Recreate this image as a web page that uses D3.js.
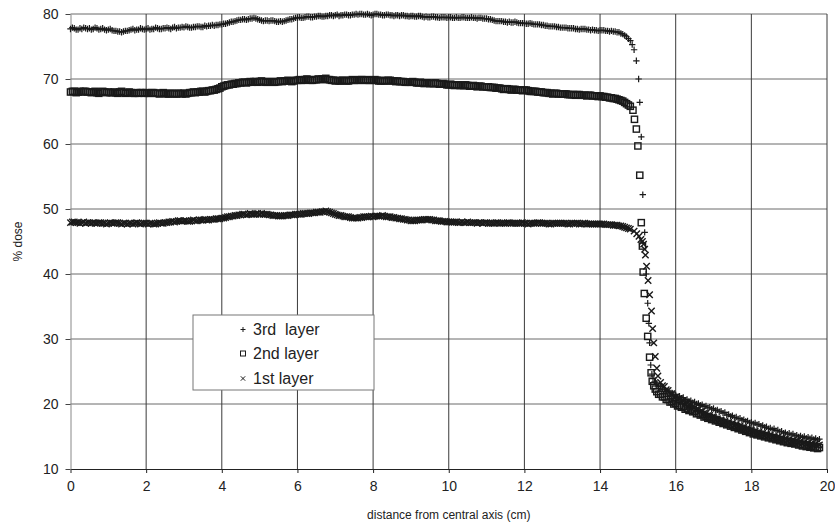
<!DOCTYPE html>
<html>
<head>
<meta charset="utf-8">
<script src="https://cdn.jsdelivr.net/npm/d3@7"></script>
<style>
  body { margin: 0; background: #fff; }
  text { font-family: Arial, "Liberation Sans", Helvetica, sans-serif; fill: #222; }
</style>
</head>
<body>
<div id="chart"></div>
<script>
// sampling step of the measured profiles (cm)
var step = 0.05;

// ---- 3rd layer ---- (plateau: 0 .. 14.8 cm)
var layer3Plateau = [
  77.7, 77.9, 77.8, 77.6, 77.6, 77.8, 77.7, 77.9, 77.8, 77.7, 77.8, 77.6, 77.7, 77.9, 77.8, 77.6, 77.7, 77.8, 77.6, 77.5,
  77.6, 77.7, 77.5, 77.4, 77.4, 77.3, 77.3, 77.2, 77.3, 77.4, 77.4, 77.5, 77.6, 77.7, 77.5, 77.6, 77.6, 77.8, 77.7, 77.6,
  77.7, 77.8, 77.6, 77.7, 77.7, 77.9, 77.8, 77.7, 77.7, 77.8, 77.8, 77.9, 77.8, 77.7, 77.9, 78.0, 77.8, 77.9, 77.9, 78.0,
  77.95, 78.1, 78.0, 77.9, 77.9, 78.0, 78.0, 78.1, 78.1, 78.0, 78.0, 78.2, 78.1, 78.2, 78.2, 78.3, 78.2, 78.3, 78.3, 78.4,
  78.4, 78.5, 78.5, 78.6, 78.7, 78.8, 78.8, 78.9, 79.0, 79.1, 79.1, 79.2, 79.2, 79.1, 79.2, 79.3, 79.3, 79.4, 79.3, 79.2,
  79.1, 79.0, 78.9, 79.0, 79.0, 78.9, 79.0, 79.0, 78.9, 78.8, 78.8, 78.9, 78.8, 78.9, 79.0, 79.1, 79.2, 79.2, 79.3, 79.4,
  79.4, 79.5, 79.4, 79.4, 79.5, 79.6, 79.6, 79.5, 79.5, 79.6, 79.6, 79.7, 79.7, 79.6, 79.6, 79.7, 79.7, 79.8, 79.8, 79.7,
  79.8, 79.9, 79.7, 79.8, 79.8, 79.9, 79.9, 79.8, 79.8, 79.9, 79.9, 80.0, 79.9, 80.0, 80.0, 79.9, 79.9, 80.0, 79.9, 79.8,
  79.9, 80.0, 80.0, 79.9, 79.9, 79.8, 79.8, 79.9, 79.9, 79.8, 79.8, 79.7, 79.8, 79.8, 79.7, 79.8, 79.8, 79.7, 79.7, 79.6,
  79.7, 79.7, 79.6, 79.6, 79.7, 79.7, 79.6, 79.5, 79.6, 79.5, 79.5, 79.6, 79.6, 79.5, 79.5, 79.4, 79.5, 79.5, 79.5, 79.4,
  79.5, 79.5, 79.4, 79.4, 79.5, 79.4, 79.4, 79.5, 79.5, 79.4, 79.4, 79.4, 79.5, 79.4, 79.4, 79.3, 79.4, 79.4, 79.3, 79.3,
  79.3, 79.2, 79.2, 79.1, 79.0, 78.9, 78.9, 78.9, 78.9, 78.8, 78.8, 78.7, 78.8, 78.7, 78.7, 78.8, 78.7, 78.6, 78.6, 78.6,
  78.6, 78.5, 78.5, 78.6, 78.5, 78.4, 78.4, 78.4, 78.4, 78.3, 78.3, 78.2, 78.2, 78.1, 78.1, 78.1, 78.1, 78.0, 78.0, 77.9,
  77.9, 77.9, 77.9, 77.8, 77.8, 77.8, 77.8, 77.7, 77.7, 77.6, 77.7, 77.7, 77.7, 77.6, 77.6, 77.5, 77.6, 77.5, 77.5, 77.4,
  77.5, 77.5, 77.5, 77.4, 77.4, 77.3, 77.4, 77.3, 77.3, 77.2, 77.2, 77.0, 76.9, 76.7, 76.5, 76.2, 75.9
];
var layer3FallX = [14.85, 14.9, 14.96, 15.02, 15.05, 15.09, 15.13, 15.18, 15.22, 15.26, 15.29, 15.31, 15.34, 15.37, 15.40, 15.44, 15.48];
var layer3FallY = [75.3, 74.5, 72.8, 70.0, 66.4, 61.1, 52.2, 46.4, 40.0, 35.5, 32.4, 29.4, 26.0, 24.6, 23.9, 23.4, 23.0];
var layer3TailStart = 15.5;
var layer3Tail = [
  23.2, 22.8, 22.7, 22.3, 22.3, 21.9, 22.0, 21.7, 21.7, 21.4,
  21.4, 21.1, 21.2, 20.9, 21.0, 20.6, 20.7, 20.4, 20.5, 20.2,
  20.3, 20.0, 20.1, 19.8, 19.9, 19.6, 19.7, 19.4, 19.5, 19.2,
  19.3, 19.0, 19.1, 18.8, 18.9, 18.6, 18.7, 18.3, 18.4, 18.1,
  18.2, 17.9, 18.0, 17.7, 17.8, 17.5, 17.6, 17.3, 17.4, 17.1,
  17.2, 16.95, 17.1, 16.8, 16.9, 16.6, 16.7, 16.4, 16.5, 16.2,
  16.3, 16.05, 16.2, 15.9, 16.0, 15.7, 15.8, 15.5, 15.6, 15.35,
  15.5, 15.25, 15.4, 15.1, 15.2, 14.95, 15.1, 14.85, 15.0, 14.75,
  14.9, 14.65, 14.8, 14.55, 14.7, 14.45, 14.6
];

// ---- 2nd layer ----
var layer2Plateau = [
  68.0, 68.1, 68.1, 67.9, 68.0, 68.1, 68.0, 68.1, 68.1, 68.0, 68.0, 67.9, 68.0, 68.1, 67.9, 67.8, 68.0, 68.1, 68.0, 67.9,
  68.0, 67.9, 67.9, 68.0, 67.9, 67.8, 68.0, 68.1, 67.9, 67.8, 67.9, 68.0, 67.9, 67.8, 67.8, 67.9, 67.8, 67.9, 67.9, 67.8,
  67.9, 67.8, 67.8, 67.9, 67.9, 67.8, 67.8, 67.7, 67.8, 67.9, 67.8, 67.7, 67.7, 67.8, 67.8, 67.7, 67.7, 67.8, 67.8, 67.7,
  67.8, 67.7, 67.8, 67.9, 67.9, 68.0, 67.9, 68.0, 68.0, 68.1, 68.1, 68.0, 68.1, 68.2, 68.2, 68.3, 68.3, 68.4, 68.5, 68.6,
  68.8, 68.9, 69.0, 69.1, 69.1, 69.2, 69.2, 69.3, 69.3, 69.4, 69.4, 69.5, 69.5, 69.4, 69.5, 69.6, 69.5, 69.6, 69.6, 69.5,
  69.6, 69.7, 69.6, 69.5, 69.5, 69.6, 69.6, 69.5, 69.5, 69.6, 69.6, 69.7, 69.6, 69.7, 69.7, 69.8, 69.7, 69.6, 69.7, 69.8,
  69.8, 69.9, 69.8, 69.8, 69.9, 70.0, 69.9, 69.8, 69.8, 69.9, 69.9, 70.0, 69.9, 70.0, 70.0, 70.1, 69.9, 69.9, 69.8, 69.8,
  69.7, 69.8, 69.7, 69.7, 69.8, 69.8, 69.7, 69.7, 69.8, 69.9, 69.8, 69.8, 69.8, 69.9, 69.9, 69.8, 69.8, 69.9, 69.8, 69.8,
  69.8, 69.9, 69.8, 69.7, 69.7, 69.8, 69.7, 69.7, 69.8, 69.8, 69.7, 69.7, 69.6, 69.7, 69.6, 69.6, 69.6, 69.5, 69.5, 69.5,
  69.5, 69.6, 69.5, 69.4, 69.4, 69.5, 69.4, 69.3, 69.4, 69.4, 69.3, 69.3, 69.3, 69.4, 69.3, 69.2, 69.2, 69.3, 69.2, 69.1,
  69.1, 69.2, 69.1, 69.0, 69.1, 69.1, 69.0, 69.0, 69.0, 69.1, 69.0, 68.9, 68.9, 69.0, 68.9, 68.8, 68.9, 68.9, 68.8, 68.8,
  68.8, 68.8, 68.7, 68.7, 68.7, 68.6, 68.6, 68.6, 68.5, 68.4, 68.5, 68.5, 68.4, 68.3, 68.4, 68.4, 68.3, 68.3, 68.3, 68.2,
  68.3, 68.3, 68.2, 68.1, 68.1, 68.1, 68.1, 68.0, 68.0, 68.0, 67.9, 67.9, 67.9, 67.8, 67.8, 67.7, 67.8, 67.8, 67.7, 67.7,
  67.7, 67.7, 67.7, 67.6, 67.6, 67.6, 67.6, 67.5, 67.6, 67.6, 67.5, 67.5, 67.5, 67.4, 67.5, 67.5, 67.4, 67.4, 67.4, 67.3,
  67.4, 67.3, 67.3, 67.2, 67.2, 67.1, 67.1, 67.0, 67.0, 66.9, 66.8, 66.7, 66.6, 66.4, 66.2, 66.0, 65.8
];
var layer2FallX = [14.87, 14.91, 14.96, 15.00, 15.05, 15.09, 15.12, 15.14, 15.17, 15.22, 15.26, 15.31, 15.35, 15.38, 15.42, 15.46];
var layer2FallY = [65.2, 63.8, 62.3, 59.7, 55.2, 47.9, 44.3, 40.3, 37.0, 33.2, 30.4, 27.2, 24.8, 23.5, 22.8, 22.3];
var layer2TailStart = 15.5;
var layer2Tail = [
  21.9, 21.5, 21.5, 21.1, 21.1, 20.7, 20.7, 20.3, 20.4, 20.0,
  20.1, 19.7, 19.8, 19.5, 19.6, 19.2, 19.3, 19.0, 19.1, 18.8,
  18.9, 18.5, 18.6, 18.3, 18.4, 18.0, 18.1, 17.8, 17.9, 17.6,
  17.7, 17.4, 17.5, 17.2, 17.3, 17.0, 17.1, 16.8, 16.9, 16.6,
  16.7, 16.4, 16.5, 16.2, 16.3, 16.0, 16.1, 15.8, 15.9, 15.6,
  15.7, 15.4, 15.5, 15.25, 15.4, 15.1, 15.2, 14.95, 15.1, 14.8,
  14.9, 14.65, 14.8, 14.5, 14.6, 14.35, 14.5, 14.2, 14.3, 14.05,
  14.2, 13.95, 14.1, 13.85, 14.0, 13.7, 13.8, 13.55, 13.7, 13.45,
  13.6, 13.35, 13.5, 13.25, 13.4, 13.15, 13.3
];

// ---- 1st layer ----
var layer1Plateau = [
  47.9, 48.0, 48.0, 47.9, 47.9, 47.8, 47.9, 48.0, 47.8, 47.9, 47.9, 47.8, 47.9, 47.8, 47.8, 47.9, 47.9, 47.8, 47.8, 47.7,
  47.8, 47.9, 47.8, 47.8, 47.9, 47.9, 47.8, 47.7, 47.8, 47.8, 47.7, 47.8, 47.8, 47.7, 47.8, 47.9, 47.8, 47.7, 47.8, 47.8,
  47.8, 47.7, 47.8, 47.8, 47.7, 47.7, 47.8, 47.9, 47.8, 47.8, 47.9, 47.9, 48.0, 48.0, 48.1, 48.0, 48.1, 48.2, 48.2, 48.1,
  48.2, 48.2, 48.1, 48.1, 48.2, 48.3, 48.2, 48.2, 48.3, 48.3, 48.3, 48.4, 48.3, 48.3, 48.4, 48.4, 48.4, 48.5, 48.5, 48.5,
  48.6, 48.6, 48.7, 48.8, 48.8, 48.9, 48.9, 49.0, 49.0, 49.1, 49.1, 49.2, 49.2, 49.1, 49.2, 49.3, 49.2, 49.2, 49.2, 49.3,
  49.2, 49.3, 49.2, 49.2, 49.2, 49.1, 49.1, 49.0, 49.0, 49.0, 48.9, 48.9, 48.9, 49.0, 49.0, 49.0, 49.1, 49.1, 49.1, 49.2,
  49.2, 49.2, 49.2, 49.3, 49.3, 49.3, 49.3, 49.4, 49.4, 49.4, 49.5, 49.5, 49.5, 49.6, 49.6, 49.7, 49.6, 49.5, 49.4, 49.3,
  49.2, 49.1, 49.0, 49.0, 48.9, 48.8, 48.8, 48.8, 48.7, 48.6, 48.6, 48.6, 48.6, 48.7, 48.7, 48.8, 48.8, 48.8, 48.8, 48.9,
  48.8, 48.9, 48.9, 48.9, 48.9, 49.0, 48.9, 48.8, 48.8, 48.8, 48.7, 48.7, 48.6, 48.6, 48.5, 48.5, 48.4, 48.4, 48.3, 48.3,
  48.2, 48.2, 48.2, 48.3, 48.3, 48.3, 48.3, 48.4, 48.4, 48.4, 48.4, 48.3, 48.3, 48.2, 48.2, 48.2, 48.1, 48.1, 48.1, 48.0,
  48.0, 48.0, 48.0, 48.0, 48.0, 47.9, 47.9, 48.0, 47.9, 47.9, 48.0, 47.9, 47.9, 47.9, 47.9, 47.8, 47.9, 47.9, 47.8, 47.9,
  47.9, 47.8, 47.8, 47.8, 47.8, 47.9, 47.9, 47.8, 47.8, 47.8, 47.8, 47.9, 47.9, 47.8, 47.8, 47.8, 47.8, 47.8, 47.8, 47.9,
  47.8, 47.8, 47.7, 47.8, 47.8, 47.8, 47.8, 47.9, 47.9, 47.8, 47.8, 47.8, 47.8, 47.7, 47.7, 47.8, 47.8, 47.8, 47.8, 47.8,
  47.8, 47.8, 47.8, 47.7, 47.7, 47.8, 47.8, 47.8, 47.8, 47.7, 47.7, 47.8, 47.8, 47.7, 47.7, 47.7, 47.7, 47.7, 47.7, 47.7,
  47.7, 47.7, 47.7, 47.6, 47.6, 47.6, 47.6, 47.5, 47.5, 47.5, 47.4, 47.4, 47.3, 47.2, 47.1, 47.0, 46.9
];
var layer1FallX = [14.9, 14.97, 15.03, 15.08, 15.12, 15.15, 15.18, 15.20, 15.23, 15.27, 15.31, 15.36, 15.39, 15.42, 15.46, 15.50, 15.53];
var layer1FallY = [46.6, 46.2, 45.8, 45.3, 45.0, 44.6, 43.8, 42.9, 41.2, 39.0, 36.8, 34.3, 31.6, 29.4, 27.3, 25.5, 24.3];
var layer1TailStart = 15.6;
var layer1Tail = [
  23.3, 22.8, 22.7, 22.2, 22.1, 21.6, 21.6, 21.1,
  21.1, 20.75, 20.8, 20.45, 20.5, 20.15, 20.2, 19.85, 19.9, 19.55,
  19.5, 19.15, 19.2, 18.85, 18.9, 18.55, 18.55, 18.2, 18.25, 17.95,
  18.0, 17.7, 17.75, 17.45, 17.55, 17.25, 17.35, 17.05, 17.15, 16.85,
  17.0, 16.7, 16.8, 16.5, 16.6, 16.3, 16.4, 16.1, 16.2, 15.9,
  16.0, 15.7, 15.8, 15.55, 15.7, 15.4, 15.5, 15.2, 15.3, 15.05,
  15.2, 14.9, 15.0, 14.75, 14.9, 14.6, 14.7, 14.45, 14.6, 14.35,
  14.5, 14.25, 14.4, 14.15, 14.3, 14.05, 14.2, 13.95, 14.1, 13.85,
  14.0, 13.75, 13.9, 13.65, 13.8, 13.6, 13.7
];

var xTicks = [0, 2, 4, 6, 8, 10, 12, 14, 16, 18, 20];
var yTicks = [10, 20, 30, 40, 50, 60, 70, 80];
var legendNames = ["3rd  layer", "2nd layer", "1st layer"];

// build point lists
function joinSeries(plateau, fallX, fallY, tailStart, tail) {
  var pts = [];
  plateau.forEach(function (v, i) { pts.push([i * step, v]); });
  fallX.forEach(function (x, i) { pts.push([x, fallY[i]]); });
  tail.forEach(function (v, i) { pts.push([tailStart + i * step, v]); });
  return pts;
}
var layer3 = joinSeries(layer3Plateau, layer3FallX, layer3FallY, layer3TailStart, layer3Tail);
var layer2 = joinSeries(layer2Plateau, layer2FallX, layer2FallY, layer2TailStart, layer2Tail);
var layer1 = joinSeries(layer1Plateau, layer1FallX, layer1FallY, layer1TailStart, layer1Tail);

var W = 835, H = 529;
var margin = { top: 14, right: 8, bottom: 60, left: 70.5 };

var x = d3.scaleLinear().domain([0, 20]).range([margin.left, W - margin.right]);
var y = d3.scaleLinear().domain([10, 80]).range([H - margin.bottom, margin.top]);

var svg = d3.select("#chart").append("svg")
  .attr("width", W)
  .attr("height", H);

// grid
svg.append("g")
  .selectAll("line")
  .data(yTicks.slice(1))
  .enter().append("line")
  .attr("x1", x(0)).attr("x2", x(20))
  .attr("y1", function (d) { return y(d); })
  .attr("y2", function (d) { return y(d); })
  .attr("stroke", "#6a6a6a")
  .attr("stroke-width", 1);

svg.append("g")
  .selectAll("line")
  .data(xTicks.slice(1))
  .enter().append("line")
  .attr("x1", function (d) { return x(d); })
  .attr("x2", function (d) { return x(d); })
  .attr("y1", y(10)).attr("y2", y(80))
  .attr("stroke", "#3a3a3a")
  .attr("stroke-width", 1);

// axes
var xAxis = svg.append("g")
  .attr("transform", "translate(0," + y(10) + ")")
  .call(d3.axisBottom(x).tickValues(xTicks).tickSize(4).tickPadding(8).tickSizeOuter(0));
xAxis.select(".domain").attr("stroke", "#222");
xAxis.selectAll(".tick line").attr("stroke", "#222");
xAxis.selectAll("text").style("font-size", "14px").attr("fill", "#222");

var yAxis = svg.append("g")
  .attr("transform", "translate(" + x(0) + ",0)")
  .call(d3.axisLeft(y).tickValues(yTicks).tickSize(5).tickPadding(7).tickSizeOuter(0));
yAxis.select(".domain").attr("stroke", "#888");
yAxis.selectAll(".tick line").attr("stroke", "#444");
yAxis.selectAll("text").style("font-size", "14px").attr("fill", "#222");

// axis titles
svg.append("text")
  .attr("x", (x(0) + x(20)) / 2)
  .attr("y", 519)
  .style("text-anchor", "middle")
  .style("font-size", "12px")
  .text("distance from central axis (cm)");

svg.append("text")
  .attr("transform", "translate(22," + ((y(10) + y(80)) / 2) + ") rotate(-90)")
  .style("text-anchor", "middle")
  .style("font-size", "12px")
  .text("% dose");

// markers
var ink = "#1a1a1a";
function drawPlus(g, pts, s) {
  g.selectAll("path.p").data(pts).enter().append("path")
    .attr("class", "p")
    .attr("d", function (d) {
      var cx = x(d[0]), cy = y(d[1]);
      return "M" + (cx - s) + "," + cy + "H" + (cx + s) + "M" + cx + "," + (cy - s) + "V" + (cy + s);
    })
    .attr("stroke", ink).attr("stroke-width", 1.2).attr("fill", "none");
}
function drawSquare(g, pts, s) {
  g.selectAll("rect.s").data(pts).enter().append("rect")
    .attr("class", "s")
    .attr("x", function (d) { return x(d[0]) - s; })
    .attr("y", function (d) { return y(d[1]) - s; })
    .attr("width", 2 * s).attr("height", 2 * s)
    .attr("stroke", ink).attr("stroke-width", 1.4).attr("fill", "none");
}
function drawCross(g, pts, s) {
  g.selectAll("path.c").data(pts).enter().append("path")
    .attr("class", "c")
    .attr("d", function (d) {
      var cx = x(d[0]), cy = y(d[1]);
      return "M" + (cx - s) + "," + (cy - s) + "L" + (cx + s) + "," + (cy + s) +
             "M" + (cx - s) + "," + (cy + s) + "L" + (cx + s) + "," + (cy - s);
    })
    .attr("stroke", ink).attr("stroke-width", 1.4).attr("fill", "none");
}

drawSquare(svg.append("g"), layer2, 3.1);
drawCross(svg.append("g"), layer1, 3.2);
drawPlus(svg.append("g"), layer3, 3.2);

// legend
var legend = svg.append("g");
legend.append("rect")
  .attr("x", 193).attr("y", 315)
  .attr("width", 181).attr("height", 75)
  .attr("fill", "#fff").attr("stroke", "#777").attr("stroke-width", 1);

var rowY = [329.5, 353.5, 378.5];
legendNames.forEach(function (name, i) {
  legend.append("text")
    .attr("x", 253).attr("y", rowY[i])
    .attr("dy", "0.36em")
    .attr("xml:space", "preserve")
    .style("white-space", "pre")
    .style("font-size", "16px")
    .text(name);
});
var mx = 243;
legend.append("path")
  .attr("d", "M" + (mx - 2.5) + "," + rowY[0] + "H" + (mx + 2.5) + "M" + mx + "," + (rowY[0] - 2.5) + "V" + (rowY[0] + 2.5))
  .attr("stroke", ink).attr("fill", "none");
legend.append("rect")
  .attr("x", mx - 2.5).attr("y", rowY[1] - 2.5).attr("width", 5).attr("height", 5)
  .attr("stroke", ink).attr("fill", "none");
legend.append("path")
  .attr("d", "M" + (mx - 2.2) + "," + (rowY[2] - 2.2) + "L" + (mx + 2.2) + "," + (rowY[2] + 2.2) +
             "M" + (mx - 2.2) + "," + (rowY[2] + 2.2) + "L" + (mx + 2.2) + "," + (rowY[2] - 2.2))
  .attr("stroke", ink).attr("fill", "none");
</script>
</body>
</html>
